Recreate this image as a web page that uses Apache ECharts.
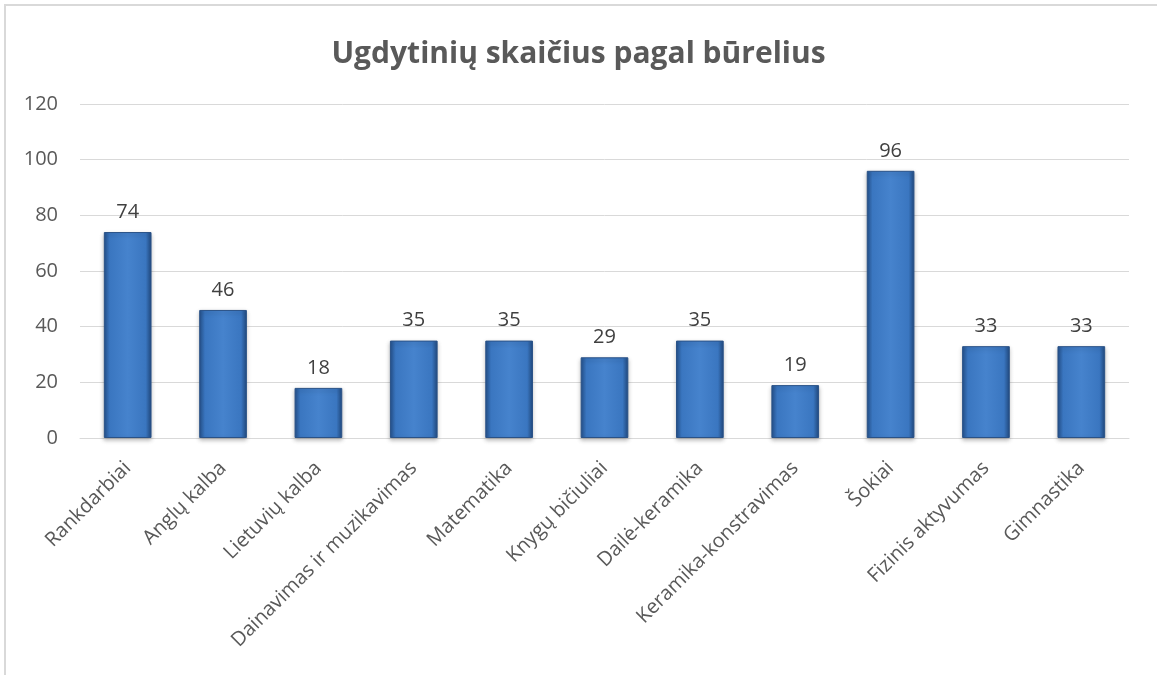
<!DOCTYPE html>
<html>
<head>
<meta charset="utf-8">
<script src="https://cdn.jsdelivr.net/npm/echarts@6/dist/echarts.min.js"></script>
<style>
  html, body { margin: 0; padding: 0; background: #fff; }
  #chart { width: 1157px; height: 675px; }
</style>
</head>
<body>
<div id="chart"></div>
<script>
// būreliai ir ugdytinių skaičius
const categories = ['Rankdarbiai', 'Anglų kalba', 'Lietuvių kalba', 'Dainavimas ir muzikavimas',
  'Matematika', 'Knygų bičiuliai', 'Dailė-keramika', 'Keramika-konstravimas',
  'Šokiai', 'Fizinis aktyvumas', 'Gimnastika']
const values = [74, 46, 18, 35, 35, 29, 35, 19, 96, 33, 33]
const yTicks = { min: 0, max: 120, interval: 20 }

const font = '"Open Sans", "Noto Sans", sans-serif'
const textColor = '#595959'

const chart = echarts.init(document.getElementById('chart'), null, { renderer: 'canvas' })

// stulpelio spalva: tamsesni kraštai, šviesesnis vidurys
const barFill = new echarts.graphic.LinearGradient(0, 0, 1, 0, [
  { offset: 0, color: '#24508a' },
  { offset: 0.12, color: '#3a76c0' },
  { offset: 0.5, color: '#4683cd' },
  { offset: 0.88, color: '#3a76c0' },
  { offset: 1, color: '#214a80' }
])

const option = {
  animation: false,
  backgroundColor: '#fff',
  graphic: [{
    type: 'rect',
    shape: { x: 5, y: 5, width: 1170, height: 690 },
    style: { fill: 'none', stroke: '#d9d9d9', lineWidth: 2 },
    z: -1
  }],
  title: {
    text: 'Ugdytinių skaičius pagal būrelius',
    left: 'center',
    top: 34,
    textStyle: { fontFamily: font, fontSize: 30, fontWeight: 'bold', color: textColor }
  },
  grid: { left: 80, right: 28, top: 104, bottom: 237 },
  xAxis: {
    type: 'category',
    data: categories,
    axisTick: { show: false },
    axisLine: { lineStyle: { color: '#d9d9d9', width: 1 } },
    axisLabel: {
      interval: 0,
      rotate: 45,
      margin: 27,
      fontFamily: font,
      fontSize: 20,
      color: textColor
    }
  },
  yAxis: {
    type: 'value',
    min: yTicks.min,
    max: yTicks.max,
    interval: yTicks.interval,
    axisLine: { show: false },
    axisTick: { show: false },
    splitLine: { lineStyle: { color: '#d9d9d9', width: 1 } },
    axisLabel: { margin: 22, fontFamily: font, fontSize: 20, color: textColor }
  },
  series: [{
    type: 'bar',
    data: values,
    barWidth: '50%',
    itemStyle: {
      color: barFill,
      borderColor: '#2a5287',
      borderWidth: 1,
      shadowColor: 'rgba(0,0,0,0.25)',
      shadowBlur: 4,
      shadowOffsetY: 2
    },
    label: {
      show: true,
      position: 'top',
      distance: 10,
      fontFamily: font,
      fontSize: 20,
      color: '#404040'
    }
  }]
}

chart.setOption(option)
</script>
</body>
</html>
